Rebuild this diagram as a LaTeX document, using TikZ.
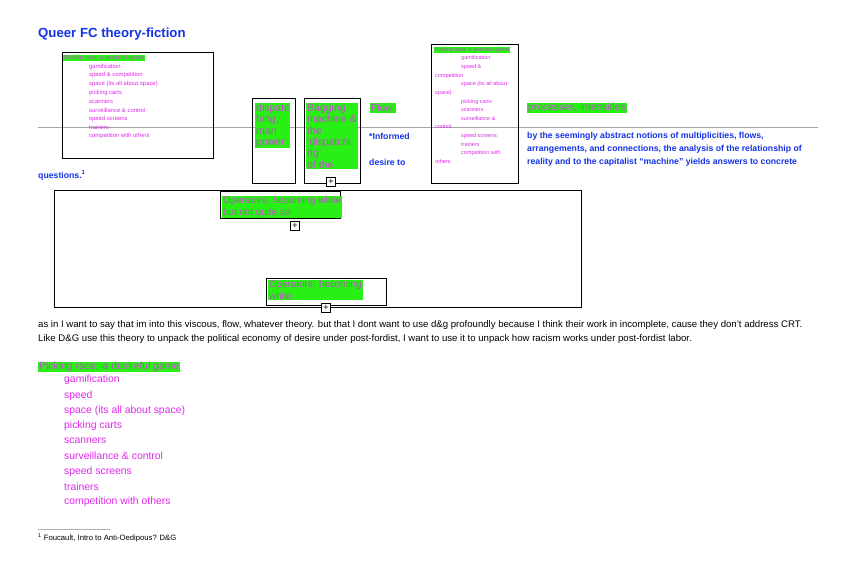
\documentclass[tikz,border=0pt]{standalone}
\usepackage{fontspec}
\setmainfont{Liberation Sans}
\definecolor{bl}{RGB}{20,50,230}
\definecolor{mg}{RGB}{225,40,235}
\definecolor{hl}{RGB}{40,240,20}
\definecolor{hlt}{RGB}{190,80,200}
\begin{document}
\begin{tikzpicture}[x=1pt,y=-1pt,
  every node/.style={inner sep=0pt,anchor=west},
  bx/.style={draw=black,line width=0.8pt},
  hi/.style={fill=hl,text=hlt,inner xsep=1pt,inner ysep=0.5pt,align=left},
  li/.style={text=mg,font=\fontsize{5.9}{6}\selectfont},
  lib/.style={text=mg,font=\fontsize{10.4}{11}\selectfont},
  bt/.style={text=bl,font=\bfseries\fontsize{8.7}{10}\selectfont},
  pls/.style={draw=black,fill=white,minimum size=9pt,inner sep=0pt,anchor=center,font=\fontsize{9}{9}\selectfont}]
\fill[white] (0,0) rectangle (856,580);
\useasboundingbox (0,0) rectangle (856,580);
\node[text=bl,font=\bfseries\fontsize{13.2}{14}\selectfont] (title) at (38,34) {Queer FC theory-fiction};
\draw[gray!70,line width=0.7pt] (38,127) -- (818,127);
% box 1
\draw[bx] (62,52) rectangle (213,158);
\node[hi,font=\fontsize{5.9}{6}\selectfont] (b1h) at (63,58) {Picking race: a desireful game};
\foreach \t [count=\i] in {gamification,speed \& competition,space (its all about space),picking carts,scanners,surveillance \& control,speed screens,trainers,competition with others}
  \node[li] (b1l\i) at (89,58+\i*8.7) {\t};
% box 2, 3
\draw[bx] (252,98) rectangle (295,183);
\node[hi,font=\fontsize{10.5}{11.4}\selectfont,anchor=north west] (b2) at (255,103) {dispatc\\hing,\\man\\power};
\draw[bx] (304,98) rectangle (360,183);
\node[hi,font=\fontsize{10.5}{11.4}\selectfont,anchor=north west] (b3) at (306,103) {Bagging\\machine \&\\the\\`dispatchi\\ng'\\of the};
\node[pls] (p1) at (331,182) {+};
\node[hi,font=\fontsize{10.2}{11}\selectfont] (flow) at (370,108) {Flow,};
\node[bt] (inf) at (369,136) {*Informed};
\node[bt] (des) at (369,162) {desire to};
% box 4
\draw[bx] (431,44) rectangle (518,183);
\node[hi,font=\fontsize{5.5}{6}\selectfont] (b4h) at (434,50) {Picking race: a desireful game};
\foreach \t/\x/\y in {gamification/461/58, speed \&/461/67, competition/435/76, space (its all about/461/84, space)/435/93, picking carts/461/102, scanners/461/110, surveillance \&/461/119, control/435/127, speed screens/461/136, trainers/461/145, competition with/461/153, others/435/162}
  \node[li,font=\fontsize{5.5}{6}\selectfont] at (\x,\y) {\t};
\node[hi,font=\fontsize{10.2}{11}\selectfont] (proc) at (527,108) {processes, intensities};
\node[bt] (t1) at (527,136) {by the seemingly abstract notions of multiplicities, flows,};
\node[bt] (t2) at (527,149) {arrangements, and connections, the analysis of the relationship of};
\node[bt] (t3) at (527,162) {reality and to the capitalist ``machine'' yields answers to concrete};
\node[bt] (q) at (38,175) {questions.\textsuperscript{1}};
% large box
\draw[bx] (54,190) rectangle (581,307);
\draw[bx] (220,191) rectangle (340,218);
\node[hi,font=\fontsize{9.8}{11.5}\selectfont,anchor=north west] (op1) at (222,196) {Operators: becoming white\\but not quite so};
\node[pls] (p2) at (295,226) {+};
\draw[bx] (266,278) rectangle (386,305);
\node[hi,font=\fontsize{9.8}{11.5}\selectfont,anchor=north west] (op2) at (268,280) {Operators: becoming\\white};
\node[pls] (p3) at (326,308) {+};
% paragraph
\node[font=\fontsize{9.6}{10}\selectfont] (par1) at (38,325) {as in I want to say that im into this viscous, flow, whatever theory. but that I dont want to use d\&g profoundly because I think their work in incomplete, cause they don't address CRT.};
\node[font=\fontsize{9.6}{10}\selectfont] (par2) at (38,339) {Like D\&G use this theory to unpack the political economy of desire under post-fordist, I want to use it to unpack how racism works under post-fordist labor.};
\node[hi,font=\fontsize{10.4}{11}\selectfont] (lh) at (38,367) {Picking race: a desireful game};
\foreach \t [count=\i] in {gamification,speed,space (its all about space),picking carts,scanners,surveillance \& control,speed screens,trainers,competition with others}
  \node[lib] (l\i) at (64,365+\i*15.2) {\t};
\draw[gray!60,line width=0.5pt] (38,529) -- (110,529);
\node[font=\fontsize{7.7}{8}\selectfont] (fn) at (38,538) {\textsuperscript{1} Foucault, Intro to Anti-Oedipous? D\&G};
\end{tikzpicture}
\end{document}
